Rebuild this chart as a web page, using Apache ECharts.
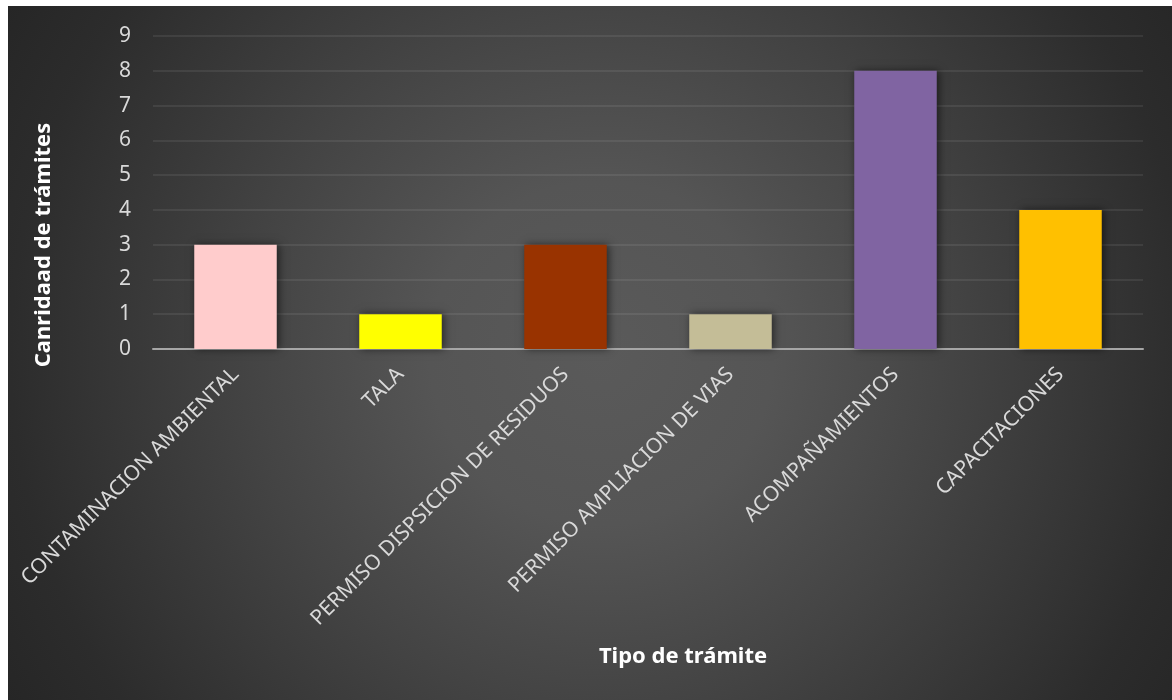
<!DOCTYPE html>
<html>
<head>
<meta charset="utf-8">
<script src="https://cdn.jsdelivr.net/npm/echarts@6/dist/echarts.min.js"></script>
<style>
  html, body { margin: 0; padding: 0; background: #ffffff; width: 1172px; height: 700px; overflow: hidden; }
  #chart {
    position: absolute; left: 8px; top: 6px; width: 1164px; height: 694px;
    background: radial-gradient(circle farthest-corner at 51% 50%, #5a5a5a 0%, #555555 25%, #444444 51%, #2c2c2c 86%, #262626 100%);
  }
</style>
</head>
<body>
<div id="chart"></div>
<script>
const categories = [
  'CONTAMINACION AMBIENTAL',
  'TALA',
  'PERMISO DISPSICION DE RESIDUOS',
  'PERMISO AMPLIACION DE VIAS',
  'ACOMPAÑAMIENTOS',
  'CAPACITACIONES'
];
const values = [3, 1, 3, 1, 8, 4];
const barColors = ['#FFCCCC', '#FFFF00', '#993300', '#C4BD97', '#8064A2', '#FFC000'];
const yTitle = 'Canridaad de trámites';
const xTitle = 'Tipo de trámite';

const chart = echarts.init(document.getElementById('chart'), null, { renderer: 'canvas' });
const font = '"Noto Sans", "Open Sans", sans-serif';

chart.setOption({
  backgroundColor: 'transparent',
  animation: false,
  grid: { left: 145, right: 29, top: 30, bottom: 351, containLabel: false },
  xAxis: {
    type: 'category',
    data: categories,
    axisLine: { show: true, lineStyle: { color: '#A6A6A6', width: 2 } },
    axisTick: { show: false },
    axisLabel: {
      rotate: 45,
      interval: 0,
      margin: 22,
      color: '#D9D9D9',
      fontFamily: font,
      fontSize: 21
    }
  },
  yAxis: {
    type: 'value',
    min: 0,
    max: 9,
    interval: 1,
    axisLine: { show: false },
    axisTick: { show: false },
    axisLabel: { color: '#D9D9D9', fontFamily: font, fontSize: 21, margin: 22 },
    splitLine: { lineStyle: { color: 'rgba(255,255,255,0.1)', width: 1.5 } }
  },
  series: [{
    type: 'bar',
    barWidth: '50%',
    data: values.map((v, i) => ({
      value: v,
      itemStyle: {
        color: barColors[i],
        shadowColor: 'rgba(0,0,0,0.55)',
        shadowBlur: 8,
        shadowOffsetX: 2,
        shadowOffsetY: 0
      }
    }))
  }],
  graphic: [
    {
      type: 'text',
      rotation: Math.PI / 2,
      style: {
        text: yTitle,
        fill: '#FFFFFF',
        font: 'bold 22px "Noto Sans", "Open Sans", sans-serif',
        textAlign: 'center',
        textVerticalAlign: 'middle'
      },
      x: 36,
      y: 239
    },
    {
      type: 'text',
      style: {
        text: xTitle,
        fill: '#FFFFFF',
        font: 'bold 22px "Noto Sans", "Open Sans", sans-serif',
        textAlign: 'center',
        textVerticalAlign: 'middle'
      },
      x: 675,
      y: 651
    }
  ]
});
</script>
</body>
</html>
